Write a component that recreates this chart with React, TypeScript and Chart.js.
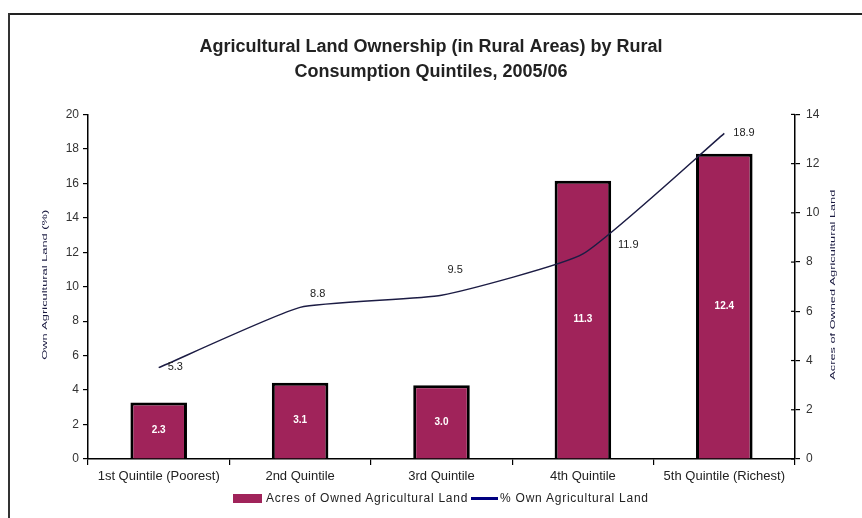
import React, { useEffect, useRef } from "react";
import { Chart, registerables } from "chart.js";

Chart.register(...registerables);

const categories = [
  "1st Quintile (Poorest)",
  "2nd Quintile",
  "3rd Quintile",
  "4th Quintile",
  "5th Quintile (Richest)",
];
const acresOwned = [2.3, 3.1, 3.0, 11.3, 12.4];
const pctOwn = [5.3, 8.8, 9.5, 11.9, 18.9];
const leftAxis = { min: 0, max: 20, step: 2 };
const rightAxis = { min: 0, max: 14, step: 2 };
const titleLines = [
  "Agricultural Land Ownership (in Rural Areas) by Rural",
  "Consumption Quintiles, 2005/06",
];
const barLabel = "Acres of Owned Agricultural Land";
const lineLabel = "% Own Agricultural Land";
const leftTitle = "Own Agricultural Land (%)";
const rightTitle = "Acres of Owned Agricultural Land";

const FONT = "'Liberation Sans', Arial, sans-serif";
const BAR_COLOR = "#A0235A";
const LINE_COLOR = "#1c1c44";
// label offsets relative to line points (style only)
const lineLabelOffsets: [number, number][] = [
  [9, -1],
  [10, -13],
  [6, -25],
  [35, -9],
  [9, 0],
];

const customPlugin = {
  id: "customLabels",
  afterDatasetsDraw(chart: any) {
    const ctx = chart.ctx as CanvasRenderingContext2D;
    const lineMeta = chart.getDatasetMeta(0);
    const barMeta = chart.getDatasetMeta(1);
    ctx.save();
    ctx.font = `bold 10px ${FONT}`;
    ctx.fillStyle = "#ffffff";
    ctx.textAlign = "center";
    ctx.textBaseline = "middle";
    barMeta.data.forEach((el: any, i: number) => {
      const p = el.getProps(["x", "y", "base"], true);
      ctx.fillText(acresOwned[i].toFixed(1), p.x, (p.y + p.base) / 2);
    });
    ctx.font = `11px ${FONT}`;
    ctx.fillStyle = "#222";
    ctx.textAlign = "left";
    lineMeta.data.forEach((pt: any, i: number) => {
      const o = lineLabelOffsets[i];
      ctx.fillText(pctOwn[i].toFixed(1), pt.x + o[0], pt.y + o[1]);
    });
    ctx.restore();
  },
  afterDraw(chart: any) {
    const ctx = chart.ctx as CanvasRenderingContext2D;
    const ca = chart.chartArea;
    const midY = (ca.top + ca.bottom) / 2;
    const drawTitle = (text: string, x: number, y: number, target: number) => {
      ctx.save();
      ctx.font = `8px ${FONT}`;
      ctx.fillStyle = "#1a1a40";
      ctx.textAlign = "center";
      ctx.textBaseline = "middle";
      ctx.translate(x, y);
      ctx.rotate(-Math.PI / 2);
      const w = ctx.measureText(text).width;
      ctx.scale(target / w, 1);
      ctx.fillText(text, 0, 0);
      ctx.restore();
    };
    drawTitle(leftTitle, ca.left - 43, midY - 2, 150);
    drawTitle(rightTitle, ca.right + 38, midY - 2, 190);
    // inner ticks on right axis
    const y1 = chart.scales.y1;
    ctx.save();
    ctx.strokeStyle = "#000";
    ctx.lineWidth = 1.2;
    y1.ticks.forEach((t: any) => {
      const py = y1.getPixelForValue(t.value);
      ctx.beginPath();
      ctx.moveTo(ca.right - 4, py);
      ctx.lineTo(ca.right, py);
      ctx.stroke();
    });
    ctx.restore();
  },
};

export default function App() {
  const ref = useRef<HTMLCanvasElement | null>(null);
  useEffect(() => {
    if (!ref.current) return;
    Chart.defaults.font.family = FONT;
    const chart = new Chart(ref.current, {
      type: "bar",
      data: {
        labels: categories,
        datasets: [
          {
            type: "line",
            label: lineLabel,
            data: pctOwn,
            yAxisID: "y",
            borderColor: LINE_COLOR,
            backgroundColor: LINE_COLOR,
            borderWidth: 1.5,
            pointRadius: 0,
            tension: 0.15,
            order: 0,
          } as any,
          {
            type: "bar",
            label: barLabel,
            data: acresOwned,
            yAxisID: "y1",
            backgroundColor: BAR_COLOR,
            borderColor: "#000",
            borderWidth: 3,
            borderSkipped: "bottom",
            barPercentage: 0.4,
            categoryPercentage: 1,
            order: 1,
          } as any,
        ],
      },
      options: {
        animation: false,
        responsive: true,
        maintainAspectRatio: false,
        layout: { padding: { left: 0, right: 0, top: 0, bottom: 0 } },
        plugins: {
          legend: { display: false },
          tooltip: { enabled: false },
          title: {
            display: true,
            text: titleLines,
            color: "#222",
            font: { family: FONT, size: 18, weight: "bold", lineHeight: 1.4 },
            padding: { top: 34, bottom: 30 },
          },
        },
        scales: {
          x: {
            grid: {
              display: true,
              drawOnChartArea: false,
              drawTicks: true,
              tickLength: 6,
              offset: true,
              color: "#000",
              lineWidth: 1.2,
            },
            border: { color: "#000", width: 1.5 },
            ticks: {
              color: "#222",
              font: { size: 13 },
              padding: 4,
              maxRotation: 0,
              autoSkip: false,
            },
            afterFit: (s: any) => {
              s.height = 59;
            },
          },
          y: {
            position: "left",
            min: leftAxis.min,
            max: leftAxis.max,
            grid: {
              drawOnChartArea: false,
              tickLength: 5,
              color: "#000",
              lineWidth: 1.2,
            },
            border: { color: "#000", width: 1.5 },
            ticks: {
              stepSize: leftAxis.step,
              color: "#333",
              font: { size: 12 },
              padding: 4,
            },
            afterFit: (s: any) => {
              s.width = 88;
            },
          },
          y1: {
            position: "right",
            min: rightAxis.min,
            max: rightAxis.max,
            grid: {
              drawOnChartArea: false,
              tickLength: 5,
              color: "#000",
              lineWidth: 1.2,
            },
            border: { color: "#000", width: 1.5 },
            ticks: {
              stepSize: rightAxis.step,
              color: "#333",
              font: { size: 12 },
              padding: 6,
            },
            afterFit: (s: any) => {
              s.width = 67;
            },
          },
        },
      },
      plugins: [customPlugin],
    });
    return () => chart.destroy();
  }, []);

  return (
    <div
      style={{
        position: "absolute",
        left: 0,
        top: 0,
        width: 862,
        height: 518,
        background: "#fff",
        overflow: "hidden",
        fontFamily: FONT,
      }}
    >
      <div style={{ position: "absolute", left: 8, top: 13, width: 854, height: 2, background: "#222" }} />
      <div style={{ position: "absolute", left: 8, top: 13, width: 2, height: 505, background: "#333" }} />
      <div style={{ position: "absolute", left: 0, top: 0, width: 862, height: 518 }}>
        <canvas ref={ref} />
      </div>
      <div
        style={{
          position: "absolute",
          left: 233,
          top: 491,
          height: 14,
          display: "flex",
          alignItems: "center",
          fontSize: 12,
          letterSpacing: 0.75,
          color: "#222",
          whiteSpace: "nowrap",
        }}
      >
        <span style={{ display: "inline-block", width: 29, height: 9, background: BAR_COLOR, marginRight: 4 }} />
        <span>{barLabel}</span>
        <span style={{ display: "inline-block", width: 27, height: 3, background: "#000080", margin: "0 2px 0 3px" }} />
        <span>{lineLabel}</span>
      </div>
    </div>
  );
}
